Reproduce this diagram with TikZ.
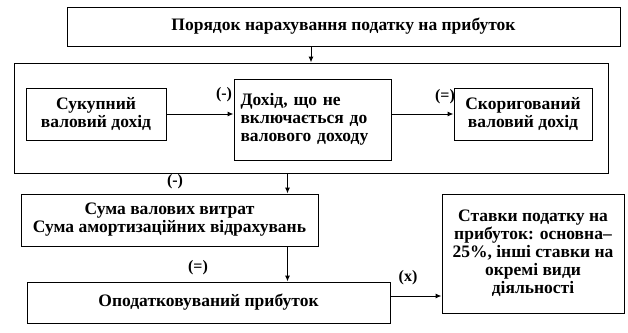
\documentclass[tikz,border=0pt]{standalone}
\usepackage{fontspec}
\setmainfont{Liberation Serif}
\usepackage{tikz}
\usetikzlibrary{arrows.meta}

\tikzset{
  box/.style={draw,line width=1pt,inner sep=0pt,font=\fontsize{17.5}{18}\selectfont\bfseries},
  sign/.style={inner sep=0pt,font=\fontsize{16}{17}\selectfont\bfseries},
  arr/.style={line width=1pt,-{Latex[length=6pt,width=5pt]}}
}

\begin{document}
\begin{tikzpicture}[x=1pt,y=-1pt]
			\useasboundingbox (0,0) rectangle (628,332);
			
			\node[box,minimum width=553,minimum height=39] (title) at (343.5,26.5) {Порядок нарахування податку на прибуток};
			\node[box,minimum width=594,minimum height=110] (frame) at (311,118) {};
			\node[box,minimum width=140,minimum height=52,align=center] (gross) at (96,114) {Сукупний\\валовий дохід};
			\node[box,minimum width=157,minimum height=81,text width=144,align=left] (excl) at (312.5,119.5) {Дохід, що не\\включається до\\валового доходу};
			\node[box,minimum width=138,minimum height=52,align=center] (adj) at (523,114) {Скоригований\\валовий дохід};
			\node[box,minimum width=297,minimum height=52,align=center] (costs) at (169.5,220) {Сума валових витрат\\Сума амортизаційних відрахувань};
			\node[box,minimum width=363,minimum height=41] (taxable) at (208.5,302.5) {Оподатковуваний прибуток};
			\node[box,minimum width=182,minimum height=119,align=center] (rates) at (533,253.5) {Ставки податку на\\прибуток: основна--\\25\%, інші ставки на\\окремі види\\діяльності};
			
			\coordinate (down) at ([xshift=-31]costs.north east);
			\coordinate (tx) at ([yshift=6.5]taxable.east);
			
			\draw[arr] (title.south -| frame.north) -- (frame.north);
			\draw[arr] (gross.east) -- (gross.east -| excl.west);
			\draw[arr] (excl.east |- adj.west) -- (adj.west);
			\draw[arr] (frame.south -| down) -- (down);
			\draw[arr] (costs.south -| down) -- (taxable.north -| down);
			\draw[arr] (tx) -- (rates.west |- tx);
			
			\node[sign] (s1) at (224,95) {(-)};
			\node[sign] (s2) at (445,97) {(=)};
			\node[sign] (s3) at (175,182) {(-)};
			\node[sign] (s4) at (198,268) {(=)};
			\node[sign] (s5) at (408,278) {(x)};
			
		\end{tikzpicture}
\end{document}
